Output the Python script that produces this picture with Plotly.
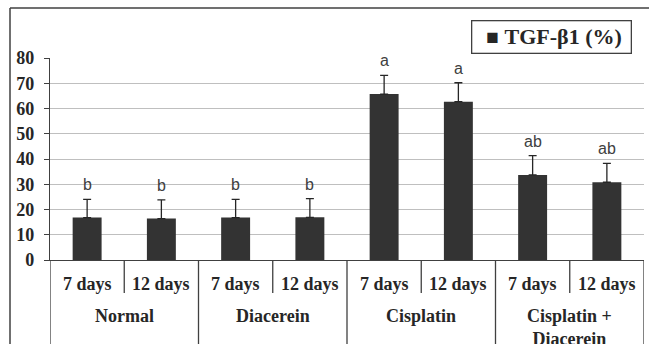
import plotly.graph_objects as go

# TGF-beta1 expression (%) by treatment group and time point
groups = ["Normal", "Diacerein", "Cisplatin", "Cisplatin +<br>Diacerein"]
times = ["7 days", "12 days"]
means = [16.8, 16.4, 16.8, 16.9, 65.7, 62.7, 33.7, 30.8]
sds = [7.2, 7.4, 7.2, 7.4, 7.4, 7.5, 7.6, 7.5]
letters = ["b", "b", "b", "b", "a", "a", "ab", "ab"]
y_ticks = [0, 10, 20, 30, 40, 50, 60, 70, 80]

n = len(means)
xs = list(range(n))
sub_labels = [times[i % 2] for i in range(n)]

serif = "Liberation Serif"
ink = "#262626"
axis_col = "#404040"
plot_h = 202.0
plot_w = 594.0

fig = go.Figure()
fig.add_trace(go.Bar(
    x=xs, y=means, width=0.39,
    marker=dict(color="#333333", line=dict(width=0)),
    error_y=dict(type="data", array=sds, arrayminus=[0] * n, symmetric=False,
                 color=ink, thickness=1.3, width=4),
    showlegend=False,
))

annotations = []
# significance letters above each error bar
for x, m, s, lab in zip(xs, means, sds, letters):
    annotations.append(dict(x=x, y=m + s, xref="x", yref="y", text=lab, showarrow=False,
                            yanchor="bottom", yshift=4,
                            font=dict(family="Liberation Sans", size=16, color="#404040")))
# time-point labels under each bar
for x, lab in zip(xs, sub_labels):
    annotations.append(dict(x=x, y=0, xref="x", yref="y", text=lab,
                            showarrow=False, yanchor="middle", yshift=-24,
                            font=dict(family=serif, size=18, color=ink, weight="bold")))
# group labels
for g, lab in enumerate(groups):
    annotations.append(dict(x=2 * g + 0.5, y=0, xref="x", yref="y", text=lab,
                            showarrow=False, yanchor="top", yshift=-44,
                            font=dict(family=serif, size=18, color=ink, weight="bold")))
# legend box
annotations.append(dict(x=(632 - 50) / plot_w, y=(260 - 20) / plot_h, xref="paper", yref="paper",
                        xanchor="right", yanchor="top",
                        text="&nbsp;&nbsp;<span style='font-size:21px'>■</span> <b>TGF-β1 (%)</b>&nbsp;",
                        showarrow=False, bordercolor=axis_col, borderwidth=1.3, borderpad=3,
                        bgcolor="white", font=dict(family=serif, size=22, color=ink)))

shapes = []
# divider lines in the category table below the axis
for i in range(n + 1):
    b = i - 0.5
    y0 = -33 / plot_h if i % 2 == 1 else -0.6
    shapes.append(dict(type="line", xref="x", yref="paper", x0=b, x1=b, y0=0, y1=y0,
                       line=dict(color=axis_col, width=1.3)))
# outer frame (left and top edges; the rest runs past the page)
frame_l = -40 / plot_w
frame_t = 252 / plot_h
shapes.append(dict(type="line", xref="paper", yref="paper", x0=frame_l, x1=frame_l,
                   y0=-0.6, y1=frame_t, line=dict(color=axis_col, width=1.5)))
shapes.append(dict(type="line", xref="paper", yref="paper", x0=frame_l, x1=1.05,
                   y0=frame_t, y1=frame_t, line=dict(color=axis_col, width=1.5)))

fig.update_layout(
    width=649, height=344,
    margin=dict(l=50, r=5, t=58, b=84),
    paper_bgcolor="white", plot_bgcolor="white",
    bargap=0.61,
    annotations=annotations,
    shapes=shapes,
    xaxis=dict(range=[-0.5, n - 0.5], showticklabels=False, ticks="", showgrid=False,
               zeroline=False, showline=True, linecolor=axis_col, linewidth=1.3),
    yaxis=dict(range=[0, 80], tickvals=y_ticks, showgrid=True, gridcolor="#bfbfbf",
               gridwidth=1.2, zeroline=False, showline=True, linecolor=axis_col, linewidth=1.3,
               ticks="outside", ticklen=5, tickcolor=axis_col, ticklabelstandoff=6,
               tickfont=dict(family=serif, size=18, color=ink, weight="bold")),
)

fig.write_html("out.html")
